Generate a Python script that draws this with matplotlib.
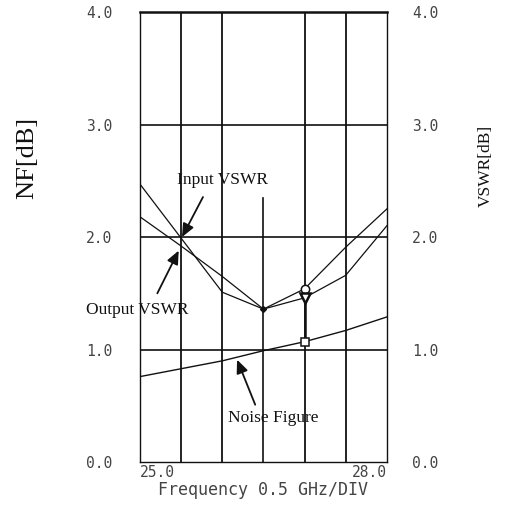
import matplotlib
matplotlib.use("Agg")
import matplotlib.pyplot as plt

# ---- data ----
freq = [25.0, 25.5, 26.0, 26.5, 27.0, 27.5, 28.0]
input_vswr = [2.47, 1.99, 1.51, 1.36, 1.54, 1.91, 2.25]
output_vswr = [2.18, 1.92, 1.65, 1.36, 1.46, 1.66, 2.10]
noise_figure = [0.76, 0.83, 0.90, 0.99, 1.07, 1.17, 1.29]
marker_freq = 27.0
yticks = [0.0, 1.0, 2.0, 3.0, 4.0]
ytick_labels = ["0.0", "1.0", "2.0", "3.0", "4.0"]
xtick_labels = ["25.0", "28.0"]

fig = plt.figure(figsize=(5.13, 5.05), dpi=100)
ax = fig.add_axes([0.273, 0.085, 0.481, 0.891])
ax.set_xlim(25.0, 28.0)
ax.set_ylim(0.0, 4.0)

ink = "#111111"
tick_col = "#444444"
# grid
for xv in [25.5, 26.0, 27.0, 27.5]:
    ax.plot([xv, xv], [0, 4], color=ink, lw=1.3, zorder=1)
ax.plot([26.5, 26.5], [0, 2.35], color=ink, lw=1.2, zorder=1)
for yv in [1.0, 2.0, 3.0]:
    ax.plot([25, 28], [yv, yv], color=ink, lw=1.2, zorder=1)

ax.spines["top"].set_linewidth(1.8)
for s in ["left", "right", "bottom"]:
    ax.spines[s].set_linewidth(1.0)
for s in ax.spines.values():
    s.set_color(ink)

# curves
ax.plot(freq, input_vswr, color=ink, lw=0.9, zorder=3)
ax.plot(freq, output_vswr, color=ink, lw=0.9, zorder=3)
ax.plot(freq, noise_figure, color=ink, lw=1.0, zorder=3)
ax.plot([26.5], [input_vswr[3]], marker="D", ms=3, color=ink, zorder=4)

i = freq.index(marker_freq)
ax.plot([marker_freq, marker_freq], [noise_figure[i], output_vswr[i]], color=ink, lw=1.8, zorder=3)
ax.plot(marker_freq, input_vswr[i], marker="o", ms=6, mfc="white", mec=ink, mew=1.1, zorder=5)
ax.plot(marker_freq, output_vswr[i], marker="v", ms=7, mfc="white", mec=ink, mew=1.8, zorder=5)
ax.plot(marker_freq, noise_figure[i], marker="s", ms=6, mfc="white", mec=ink, mew=1.1, zorder=5)

# annotations
serif = "Liberation Serif"
ap = dict(arrowstyle="-|>,head_length=0.8,head_width=0.35", color=ink, lw=1.3, shrinkA=0, shrinkB=0)
ax.annotate("", xy=(25.51, 2.0), xytext=(25.765, 2.356), arrowprops=ap, annotation_clip=False)
ax.text(26.0, 2.51, "Input VSWR", family=serif, fontsize=12.5, ha="center", va="center", color=ink)
ax.annotate("", xy=(25.47, 1.88), xytext=(25.21, 1.50), arrowprops=ap, annotation_clip=False)
ax.text(24.96, 1.35, "Output VSWR", family=serif, fontsize=12.5, ha="center", va="center", color=ink, clip_on=False)
ax.annotate("", xy=(26.18, 0.91), xytext=(26.40, 0.51), arrowprops=ap, annotation_clip=False)
ax.text(26.62, 0.39, "Noise Figure", family=serif, fontsize=12.5, ha="center", va="center", color=ink)

# ticks
mono = "DejaVu Sans Mono"
ax.set_yticks(yticks)
ax.set_yticklabels(ytick_labels, family=mono, fontsize=10.5, color=tick_col)
ax.tick_params(axis="y", length=0, pad=20)
ax.set_xticks([25.0, 28.0])
ax.set_xticklabels(xtick_labels, family=mono, fontsize=10.5, color=tick_col)
ax.tick_params(axis="x", length=0, pad=2)
for lbl, ha in zip(ax.get_xticklabels(), ["left", "right"]):
    lbl.set_ha(ha)

ax2 = ax.twinx()
ax2.set_ylim(0.0, 4.0)
ax2.set_yticks(yticks)
ax2.set_yticklabels(ytick_labels, family=mono, fontsize=10.5, color=tick_col)
ax2.tick_params(axis="y", length=0, pad=18)
for s in ax2.spines.values():
    s.set_visible(False)

ax.set_xlabel("Frequency 0.5 GHz/DIV", family=mono, fontsize=12, color=tick_col, labelpad=1)
fig.text(0.053, 0.687, "NF[dB]", family=serif, fontsize=19, rotation=90, ha="center", va="center", color=ink)
fig.text(0.946, 0.672, "VSWR[dB]", family=serif, fontsize=12.5, rotation=90, ha="center", va="center", color=ink)

fig.savefig("out.png", dpi=100, facecolor="white")
